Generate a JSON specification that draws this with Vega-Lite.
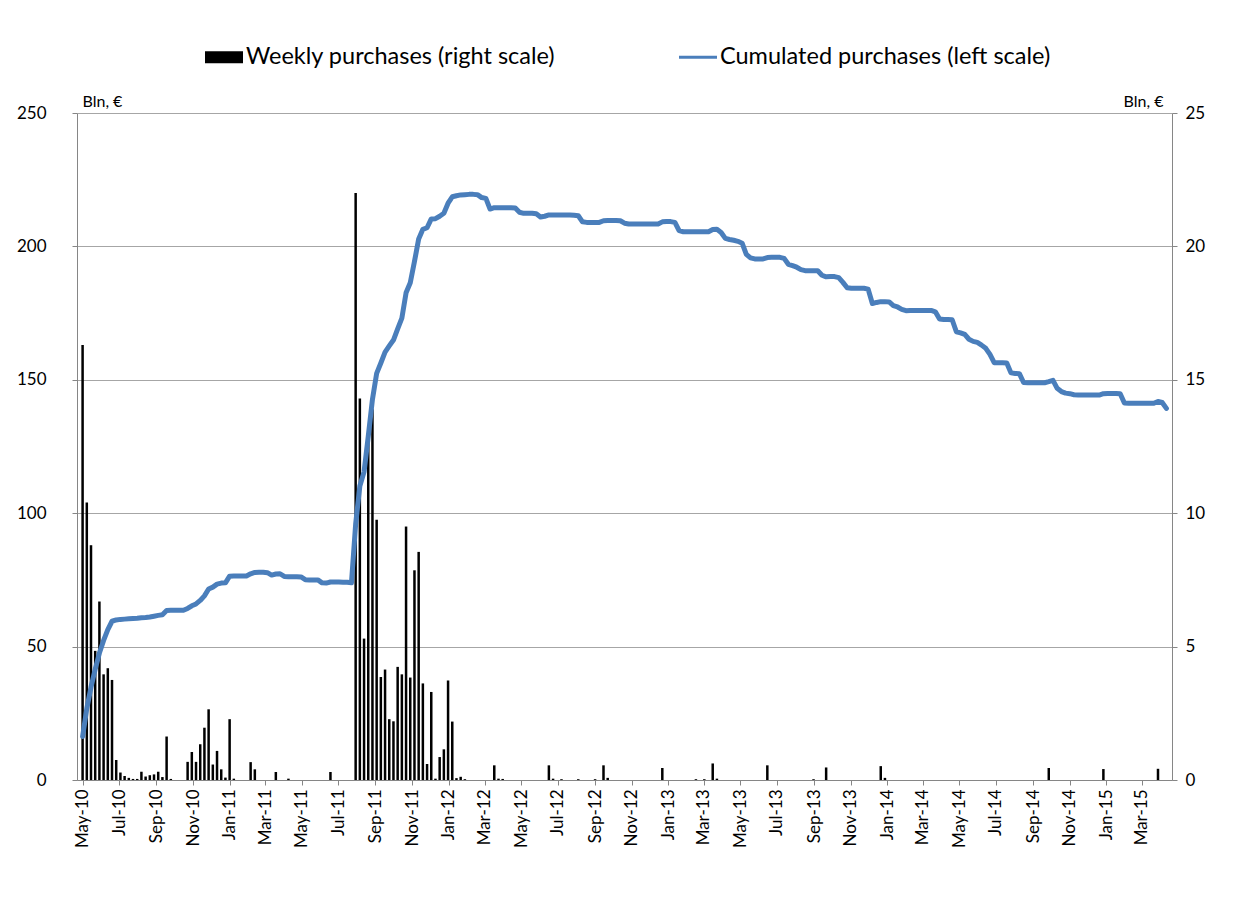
{
"$schema": "https://vega.github.io/schema/vega-lite/v6.json",
"width": 1095, "height": 667,
"autosize": {"type": "none"},
"padding": {"left": 77, "top": 113, "right": 63, "bottom": 120},
"background": "white",
"config": {"font": "Lato", "view": {"stroke": null},
 "axis": {"labelFont": "Lato", "labelColor": "#000000", "labelFontSize": 16, "titleFont": "Lato", "titleFontWeight": "normal", "titleFontSize": 16, "titleColor": "#000000", "domainColor": "#868686", "tickColor": "#868686", "gridColor": "#a6a6a6", "labelOverlap": false}},
"data": {"values": [
{"date":"2010-05-10","weekly":16.3,"cumulated":16.3},
{"date":"2010-05-17","weekly":10.4,"cumulated":26.8},
{"date":"2010-05-24","weekly":8.8,"cumulated":34.8},
{"date":"2010-05-31","weekly":4.84,"cumulated":41.5},
{"date":"2010-06-07","weekly":6.69,"cumulated":47.6},
{"date":"2010-06-14","weekly":3.96,"cumulated":52.3},
{"date":"2010-06-21","weekly":4.19,"cumulated":56.4},
{"date":"2010-06-28","weekly":3.75,"cumulated":59.5},
{"date":"2010-07-05","weekly":0.75,"cumulated":60.0},
{"date":"2010-07-12","weekly":0.28,"cumulated":60.2},
{"date":"2010-07-19","weekly":0.15,"cumulated":60.3},
{"date":"2010-07-26","weekly":0.08,"cumulated":60.4},
{"date":"2010-08-02","weekly":0.04,"cumulated":60.5},
{"date":"2010-08-09","weekly":0.04,"cumulated":60.6},
{"date":"2010-08-16","weekly":0.31,"cumulated":60.8},
{"date":"2010-08-23","weekly":0.13,"cumulated":60.9},
{"date":"2010-08-30","weekly":0.18,"cumulated":61.1},
{"date":"2010-09-06","weekly":0.21,"cumulated":61.4},
{"date":"2010-09-13","weekly":0.31,"cumulated":61.7},
{"date":"2010-09-20","weekly":0.11,"cumulated":61.9},
{"date":"2010-09-27","weekly":1.63,"cumulated":63.5},
{"date":"2010-10-04","weekly":0.04,"cumulated":63.6},
{"date":"2010-10-11","weekly":0,"cumulated":63.6},
{"date":"2010-10-18","weekly":0,"cumulated":63.6},
{"date":"2010-10-25","weekly":0,"cumulated":63.6},
{"date":"2010-11-01","weekly":0.68,"cumulated":64.3},
{"date":"2010-11-08","weekly":1.05,"cumulated":65.3},
{"date":"2010-11-15","weekly":0.68,"cumulated":66.0},
{"date":"2010-11-22","weekly":1.34,"cumulated":67.3},
{"date":"2010-11-29","weekly":1.96,"cumulated":69.0},
{"date":"2010-12-06","weekly":2.65,"cumulated":71.6},
{"date":"2010-12-13","weekly":0.58,"cumulated":72.3},
{"date":"2010-12-20","weekly":1.09,"cumulated":73.4},
{"date":"2010-12-27","weekly":0.4,"cumulated":73.8},
{"date":"2011-01-03","weekly":0.09,"cumulated":73.9},
{"date":"2011-01-10","weekly":2.28,"cumulated":76.4},
{"date":"2011-01-17","weekly":0.05,"cumulated":76.5},
{"date":"2011-01-24","weekly":0,"cumulated":76.5},
{"date":"2011-01-31","weekly":0,"cumulated":76.5},
{"date":"2011-02-07","weekly":0,"cumulated":76.5},
{"date":"2011-02-14","weekly":0.67,"cumulated":77.3},
{"date":"2011-02-21","weekly":0.4,"cumulated":77.8},
{"date":"2011-02-28","weekly":0,"cumulated":77.9},
{"date":"2011-03-07","weekly":0,"cumulated":77.9},
{"date":"2011-03-14","weekly":0,"cumulated":77.7},
{"date":"2011-03-21","weekly":0,"cumulated":76.8},
{"date":"2011-03-28","weekly":0.3,"cumulated":77.2},
{"date":"2011-04-04","weekly":0,"cumulated":77.3},
{"date":"2011-04-11","weekly":0,"cumulated":76.3},
{"date":"2011-04-18","weekly":0.05,"cumulated":76.2},
{"date":"2011-04-25","weekly":0,"cumulated":76.2},
{"date":"2011-05-02","weekly":0,"cumulated":76.2},
{"date":"2011-05-09","weekly":0,"cumulated":76.1},
{"date":"2011-05-16","weekly":0,"cumulated":75.1},
{"date":"2011-05-23","weekly":0,"cumulated":75.0},
{"date":"2011-05-30","weekly":0,"cumulated":75.0},
{"date":"2011-06-06","weekly":0,"cumulated":75.0},
{"date":"2011-06-13","weekly":0,"cumulated":73.9},
{"date":"2011-06-20","weekly":0,"cumulated":73.8},
{"date":"2011-06-27","weekly":0.3,"cumulated":74.2},
{"date":"2011-07-04","weekly":0,"cumulated":74.2},
{"date":"2011-07-11","weekly":0,"cumulated":74.2},
{"date":"2011-07-18","weekly":0,"cumulated":74.1},
{"date":"2011-07-25","weekly":0,"cumulated":74.1},
{"date":"2011-08-01","weekly":0,"cumulated":73.9},
{"date":"2011-08-08","weekly":22.0,"cumulated":95.9},
{"date":"2011-08-15","weekly":14.3,"cumulated":110.2},
{"date":"2011-08-22","weekly":5.3,"cumulated":115.5},
{"date":"2011-08-29","weekly":13.3,"cumulated":128.8},
{"date":"2011-09-05","weekly":13.9,"cumulated":142.7},
{"date":"2011-09-12","weekly":9.75,"cumulated":152.4},
{"date":"2011-09-19","weekly":3.86,"cumulated":156.3},
{"date":"2011-09-26","weekly":4.14,"cumulated":160.4},
{"date":"2011-10-03","weekly":2.28,"cumulated":162.7},
{"date":"2011-10-10","weekly":2.2,"cumulated":164.9},
{"date":"2011-10-17","weekly":4.24,"cumulated":169.1},
{"date":"2011-10-24","weekly":3.96,"cumulated":173.1},
{"date":"2011-10-31","weekly":9.5,"cumulated":182.6},
{"date":"2011-11-07","weekly":3.84,"cumulated":186.4},
{"date":"2011-11-14","weekly":7.86,"cumulated":194.3},
{"date":"2011-11-21","weekly":8.55,"cumulated":202.8},
{"date":"2011-11-28","weekly":3.62,"cumulated":206.4},
{"date":"2011-12-05","weekly":0.6,"cumulated":207.0},
{"date":"2011-12-12","weekly":3.3,"cumulated":210.3},
{"date":"2011-12-19","weekly":0.05,"cumulated":210.4},
{"date":"2011-12-26","weekly":0.86,"cumulated":211.3},
{"date":"2012-01-02","weekly":1.15,"cumulated":212.4},
{"date":"2012-01-09","weekly":3.73,"cumulated":216.2},
{"date":"2012-01-16","weekly":2.19,"cumulated":218.6},
{"date":"2012-01-23","weekly":0.07,"cumulated":219.0},
{"date":"2012-01-30","weekly":0.12,"cumulated":219.3},
{"date":"2012-02-06","weekly":0.03,"cumulated":219.4},
{"date":"2012-02-13","weekly":0,"cumulated":219.5},
{"date":"2012-02-20","weekly":0,"cumulated":219.5},
{"date":"2012-02-27","weekly":0,"cumulated":219.4},
{"date":"2012-03-05","weekly":0,"cumulated":218.3},
{"date":"2012-03-12","weekly":0,"cumulated":218.0},
{"date":"2012-03-19","weekly":0,"cumulated":214.0},
{"date":"2012-03-26","weekly":0.55,"cumulated":214.5},
{"date":"2012-04-02","weekly":0.05,"cumulated":214.5},
{"date":"2012-04-09","weekly":0.04,"cumulated":214.5},
{"date":"2012-04-16","weekly":0,"cumulated":214.5},
{"date":"2012-04-23","weekly":0,"cumulated":214.5},
{"date":"2012-04-30","weekly":0,"cumulated":214.4},
{"date":"2012-05-07","weekly":0,"cumulated":212.8},
{"date":"2012-05-14","weekly":0,"cumulated":212.4},
{"date":"2012-05-21","weekly":0,"cumulated":212.4},
{"date":"2012-05-28","weekly":0,"cumulated":212.4},
{"date":"2012-06-04","weekly":0,"cumulated":212.2},
{"date":"2012-06-11","weekly":0,"cumulated":211.0},
{"date":"2012-06-18","weekly":0,"cumulated":211.3},
{"date":"2012-06-25","weekly":0.55,"cumulated":211.8},
{"date":"2012-07-02","weekly":0.05,"cumulated":211.8},
{"date":"2012-07-09","weekly":0,"cumulated":211.8},
{"date":"2012-07-16","weekly":0.03,"cumulated":211.8},
{"date":"2012-07-23","weekly":0,"cumulated":211.8},
{"date":"2012-07-30","weekly":0,"cumulated":211.8},
{"date":"2012-08-06","weekly":0,"cumulated":211.7},
{"date":"2012-08-13","weekly":0.03,"cumulated":211.5},
{"date":"2012-08-20","weekly":0,"cumulated":209.2},
{"date":"2012-08-27","weekly":0,"cumulated":209.0},
{"date":"2012-09-03","weekly":0,"cumulated":209.0},
{"date":"2012-09-10","weekly":0.03,"cumulated":209.0},
{"date":"2012-09-17","weekly":0,"cumulated":209.0},
{"date":"2012-09-24","weekly":0.55,"cumulated":209.6},
{"date":"2012-10-01","weekly":0.08,"cumulated":209.7},
{"date":"2012-10-08","weekly":0,"cumulated":209.7},
{"date":"2012-10-15","weekly":0,"cumulated":209.7},
{"date":"2012-10-22","weekly":0,"cumulated":209.6},
{"date":"2012-10-29","weekly":0,"cumulated":208.7},
{"date":"2012-11-05","weekly":0,"cumulated":208.4},
{"date":"2012-11-12","weekly":0,"cumulated":208.4},
{"date":"2012-11-19","weekly":0,"cumulated":208.4},
{"date":"2012-11-26","weekly":0,"cumulated":208.4},
{"date":"2012-12-03","weekly":0,"cumulated":208.4},
{"date":"2012-12-10","weekly":0,"cumulated":208.4},
{"date":"2012-12-17","weekly":0,"cumulated":208.4},
{"date":"2012-12-24","weekly":0,"cumulated":208.4},
{"date":"2012-12-31","weekly":0.45,"cumulated":209.2},
{"date":"2013-01-07","weekly":0,"cumulated":209.3},
{"date":"2013-01-14","weekly":0,"cumulated":209.3},
{"date":"2013-01-21","weekly":0,"cumulated":209.0},
{"date":"2013-01-28","weekly":0,"cumulated":205.9},
{"date":"2013-02-04","weekly":0,"cumulated":205.5},
{"date":"2013-02-11","weekly":0,"cumulated":205.5},
{"date":"2013-02-18","weekly":0,"cumulated":205.5},
{"date":"2013-02-25","weekly":0.03,"cumulated":205.5},
{"date":"2013-03-04","weekly":0,"cumulated":205.5},
{"date":"2013-03-11","weekly":0.03,"cumulated":205.5},
{"date":"2013-03-18","weekly":0,"cumulated":205.5},
{"date":"2013-03-25","weekly":0.62,"cumulated":206.3},
{"date":"2013-04-01","weekly":0.05,"cumulated":206.4},
{"date":"2013-04-08","weekly":0,"cumulated":205.2},
{"date":"2013-04-15","weekly":0,"cumulated":203.0},
{"date":"2013-04-22","weekly":0,"cumulated":202.6},
{"date":"2013-04-29","weekly":0,"cumulated":202.3},
{"date":"2013-05-06","weekly":0,"cumulated":201.9},
{"date":"2013-05-13","weekly":0,"cumulated":201.2},
{"date":"2013-05-20","weekly":0,"cumulated":197.0},
{"date":"2013-05-27","weekly":0,"cumulated":195.7},
{"date":"2013-06-03","weekly":0,"cumulated":195.3},
{"date":"2013-06-10","weekly":0,"cumulated":195.3},
{"date":"2013-06-17","weekly":0,"cumulated":195.3},
{"date":"2013-06-24","weekly":0.55,"cumulated":195.8},
{"date":"2013-07-01","weekly":0,"cumulated":195.9},
{"date":"2013-07-08","weekly":0,"cumulated":195.9},
{"date":"2013-07-15","weekly":0,"cumulated":195.9},
{"date":"2013-07-22","weekly":0,"cumulated":195.5},
{"date":"2013-07-29","weekly":0,"cumulated":193.3},
{"date":"2013-08-05","weekly":0,"cumulated":192.8},
{"date":"2013-08-12","weekly":0,"cumulated":192.2},
{"date":"2013-08-19","weekly":0,"cumulated":191.3},
{"date":"2013-08-26","weekly":0,"cumulated":190.9},
{"date":"2013-09-02","weekly":0,"cumulated":190.9},
{"date":"2013-09-09","weekly":0.03,"cumulated":190.9},
{"date":"2013-09-16","weekly":0,"cumulated":190.9},
{"date":"2013-09-23","weekly":0,"cumulated":189.2},
{"date":"2013-09-30","weekly":0.47,"cumulated":188.6},
{"date":"2013-10-07","weekly":0,"cumulated":188.7},
{"date":"2013-10-14","weekly":0,"cumulated":188.7},
{"date":"2013-10-21","weekly":0,"cumulated":188.3},
{"date":"2013-10-28","weekly":0,"cumulated":186.5},
{"date":"2013-11-04","weekly":0,"cumulated":184.5},
{"date":"2013-11-11","weekly":0,"cumulated":184.3},
{"date":"2013-11-18","weekly":0,"cumulated":184.3},
{"date":"2013-11-25","weekly":0,"cumulated":184.3},
{"date":"2013-12-02","weekly":0,"cumulated":184.3},
{"date":"2013-12-09","weekly":0,"cumulated":184.0},
{"date":"2013-12-16","weekly":0,"cumulated":178.6},
{"date":"2013-12-23","weekly":0,"cumulated":179.0},
{"date":"2013-12-30","weekly":0.52,"cumulated":179.3},
{"date":"2014-01-06","weekly":0.08,"cumulated":179.3},
{"date":"2014-01-13","weekly":0,"cumulated":179.2},
{"date":"2014-01-20","weekly":0,"cumulated":177.8},
{"date":"2014-01-27","weekly":0,"cumulated":177.3},
{"date":"2014-02-03","weekly":0,"cumulated":176.4},
{"date":"2014-02-10","weekly":0,"cumulated":175.9},
{"date":"2014-02-17","weekly":0,"cumulated":176.0},
{"date":"2014-02-24","weekly":0,"cumulated":176.0},
{"date":"2014-03-03","weekly":0,"cumulated":176.0},
{"date":"2014-03-10","weekly":0,"cumulated":176.0},
{"date":"2014-03-17","weekly":0,"cumulated":176.0},
{"date":"2014-03-24","weekly":0,"cumulated":176.0},
{"date":"2014-03-31","weekly":0,"cumulated":175.5},
{"date":"2014-04-07","weekly":0,"cumulated":172.8},
{"date":"2014-04-14","weekly":0,"cumulated":172.6},
{"date":"2014-04-21","weekly":0,"cumulated":172.6},
{"date":"2014-04-28","weekly":0,"cumulated":172.5},
{"date":"2014-05-05","weekly":0,"cumulated":168.0},
{"date":"2014-05-12","weekly":0,"cumulated":167.6},
{"date":"2014-05-19","weekly":0,"cumulated":167.0},
{"date":"2014-05-26","weekly":0,"cumulated":165.2},
{"date":"2014-06-02","weekly":0,"cumulated":164.4},
{"date":"2014-06-09","weekly":0,"cumulated":164.0},
{"date":"2014-06-16","weekly":0,"cumulated":163.0},
{"date":"2014-06-23","weekly":0,"cumulated":161.8},
{"date":"2014-06-30","weekly":0,"cumulated":159.5},
{"date":"2014-07-07","weekly":0,"cumulated":156.4},
{"date":"2014-07-14","weekly":0,"cumulated":156.4},
{"date":"2014-07-21","weekly":0,"cumulated":156.4},
{"date":"2014-07-28","weekly":0,"cumulated":156.3},
{"date":"2014-08-04","weekly":0,"cumulated":152.6},
{"date":"2014-08-11","weekly":0,"cumulated":152.4},
{"date":"2014-08-18","weekly":0,"cumulated":152.3},
{"date":"2014-08-25","weekly":0,"cumulated":149.0},
{"date":"2014-09-01","weekly":0,"cumulated":148.9},
{"date":"2014-09-08","weekly":0,"cumulated":148.9},
{"date":"2014-09-15","weekly":0,"cumulated":148.9},
{"date":"2014-09-22","weekly":0,"cumulated":148.9},
{"date":"2014-09-29","weekly":0,"cumulated":148.9},
{"date":"2014-10-06","weekly":0.45,"cumulated":149.3},
{"date":"2014-10-13","weekly":0,"cumulated":149.8},
{"date":"2014-10-20","weekly":0,"cumulated":146.8},
{"date":"2014-10-27","weekly":0,"cumulated":145.6},
{"date":"2014-11-03","weekly":0,"cumulated":145.0},
{"date":"2014-11-10","weekly":0,"cumulated":144.8},
{"date":"2014-11-17","weekly":0,"cumulated":144.4},
{"date":"2014-11-24","weekly":0,"cumulated":144.3},
{"date":"2014-12-01","weekly":0,"cumulated":144.3},
{"date":"2014-12-08","weekly":0,"cumulated":144.3},
{"date":"2014-12-15","weekly":0,"cumulated":144.3},
{"date":"2014-12-22","weekly":0,"cumulated":144.3},
{"date":"2014-12-29","weekly":0,"cumulated":144.3},
{"date":"2015-01-05","weekly":0.41,"cumulated":144.8},
{"date":"2015-01-12","weekly":0,"cumulated":144.9},
{"date":"2015-01-19","weekly":0,"cumulated":144.9},
{"date":"2015-01-26","weekly":0,"cumulated":144.9},
{"date":"2015-02-02","weekly":0,"cumulated":144.8},
{"date":"2015-02-09","weekly":0,"cumulated":141.3},
{"date":"2015-02-16","weekly":0,"cumulated":141.2},
{"date":"2015-02-23","weekly":0,"cumulated":141.2},
{"date":"2015-03-02","weekly":0,"cumulated":141.2},
{"date":"2015-03-09","weekly":0,"cumulated":141.2},
{"date":"2015-03-16","weekly":0,"cumulated":141.2},
{"date":"2015-03-23","weekly":0,"cumulated":141.2},
{"date":"2015-03-30","weekly":0,"cumulated":141.2},
{"date":"2015-04-06","weekly":0.42,"cumulated":141.9},
{"date":"2015-04-13","weekly":0,"cumulated":141.5},
{"date":"2015-04-20","weekly":0,"cumulated":139.3}
]},
"encoding": {
 "x": {"field": "date", "type": "temporal",
  "scale": {"type": "utc", "domain": [{"year":2010,"month":5,"date":9,"utc":true},{"year":2015,"month":4,"date":21,"utc":true}]},
  "axis": {"title": null, "grid": false, "format": "%b-%y", "labelAngle": 270, "labelFontSize": 17, "tickSize": 5, "labelPadding": 4,
   "values": [
    {"year":2010,"month":5,"date":10,"utc":true},{"year":2010,"month":7,"date":10,"utc":true},{"year":2010,"month":9,"date":10,"utc":true},{"year":2010,"month":11,"date":10,"utc":true},
    {"year":2011,"month":1,"date":10,"utc":true},{"year":2011,"month":3,"date":10,"utc":true},{"year":2011,"month":5,"date":10,"utc":true},{"year":2011,"month":7,"date":10,"utc":true},{"year":2011,"month":9,"date":10,"utc":true},{"year":2011,"month":11,"date":10,"utc":true},
    {"year":2012,"month":1,"date":10,"utc":true},{"year":2012,"month":3,"date":10,"utc":true},{"year":2012,"month":5,"date":10,"utc":true},{"year":2012,"month":7,"date":10,"utc":true},{"year":2012,"month":9,"date":10,"utc":true},{"year":2012,"month":11,"date":10,"utc":true},
    {"year":2013,"month":1,"date":10,"utc":true},{"year":2013,"month":3,"date":10,"utc":true},{"year":2013,"month":5,"date":10,"utc":true},{"year":2013,"month":7,"date":10,"utc":true},{"year":2013,"month":9,"date":10,"utc":true},{"year":2013,"month":11,"date":10,"utc":true},
    {"year":2014,"month":1,"date":10,"utc":true},{"year":2014,"month":3,"date":10,"utc":true},{"year":2014,"month":5,"date":10,"utc":true},{"year":2014,"month":7,"date":10,"utc":true},{"year":2014,"month":9,"date":10,"utc":true},{"year":2014,"month":11,"date":10,"utc":true},
    {"year":2015,"month":1,"date":10,"utc":true},{"year":2015,"month":3,"date":10,"utc":true}
   ]}}
},
"layer": [
 {"mark": {"type": "bar", "width": 2.5},
  "encoding": {
   "y": {"field": "weekly", "type": "quantitative", "scale": {"domain": [0, 25], "nice": false},
    "axis": {"orient": "right", "values": [0,5,10,15,20,25], "grid": false, "tickSize": 5, "labelPadding": 8, "labelFontSize": 17, "title": "Bln, €", "titleAngle": 0, "titleAlign": "right", "titleBaseline": "alphabetic", "titleX": -9, "titleY": -7}},
   "color": {"datum": "Weekly purchases (right scale)", "type": "nominal",
    "scale": {"domain": ["Weekly purchases (right scale)", "Cumulated purchases (left scale)"], "range": ["#000000", "#4a7ebb"]},
    "legend": {"orient": "none", "legendX": 128, "legendY": -75, "direction": "horizontal", "title": null,
     "labelFont": "Lato", "labelFontSize": 23.5, "labelColor": "#000000", "labelLimit": 700, "labelOffset": 3,
     "symbolSize": 1444, "columnPadding": 123, "padding": 0,
     "encode": {"symbols": {"update": {
      "shape": {"signal": "datum.value === 'Weekly purchases (right scale)' ? 'M-1,-0.32H1V0.32H-1Z' : 'M-1,-0.075H1V0.075H-1Z'"},
      "fill": {"signal": "datum.value === 'Weekly purchases (right scale)' ? '#000000' : '#4a7ebb'"},
      "stroke": {"value": "transparent"}, "strokeWidth": {"value": 0}, "opacity": {"value": 1}}}}}}
  }},
 {"mark": {"type": "line", "strokeWidth": 5, "strokeCap": "round", "strokeJoin": "round"},
  "encoding": {
   "y": {"field": "cumulated", "type": "quantitative", "scale": {"domain": [0, 250], "nice": false},
    "axis": {"orient": "left", "values": [0,50,100,150,200,250], "grid": true, "tickSize": 5, "labelPadding": 26, "labelFontSize": 17, "title": "Bln, €", "titleAngle": 0, "titleAlign": "left", "titleBaseline": "alphabetic", "titleX": 5, "titleY": -7}},
   "color": {"datum": "Cumulated purchases (left scale)", "type": "nominal"}
  }}
],
"resolve": {"scale": {"y": "independent"}}
}
